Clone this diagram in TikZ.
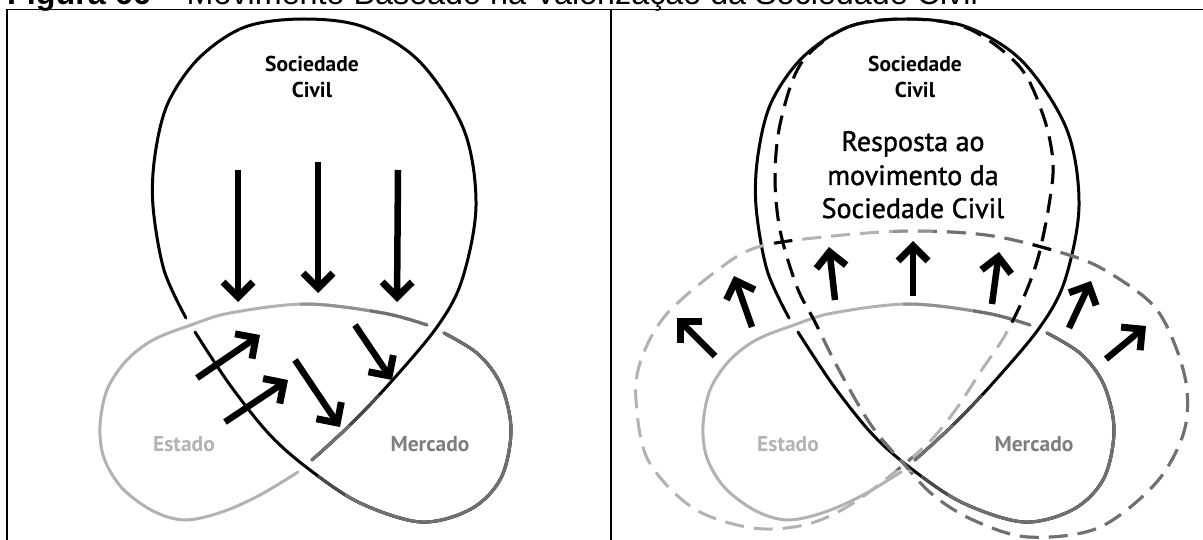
\documentclass[tikz,border=0pt]{standalone}
\usepackage{fontspec}
\setmainfont{PT Sans}
\newfontfamily\arialf{Liberation Sans}
\newfontfamily\bigf[FakeBold=1.4]{PT Sans}
\usetikzlibrary{arrows.meta}
\definecolor{estc}{HTML}{B2B2B2}
\definecolor{merc}{HTML}{707070}
\definecolor{midg}{HTML}{929292}
\definecolor{drk}{HTML}{4A4A4A}
\definecolor{estt}{HTML}{B4B4B4}
\definecolor{mert}{HTML}{7E7E7E}
\tikzset{
 knot/.style={line width=3pt, line cap=round},
 dknot/.style={line width=3pt, dash pattern=on 19pt off 10pt},
 bigarrow/.style={line width=6.5pt, -{Straight Barb[length=15pt,width=30pt,line width=7pt]}},
 frameline/.style={line width=1.4pt},
 lbl/.style={inner sep=0pt, anchor=base, font=\fontsize{21.5}{24}\selectfont\bfseries},
 big/.style={inner sep=0pt, anchor=base, font=\bigf\fontsize{28}{32}\selectfont},
}
\def\ArcA{plot[smooth,tension=0.55] coordinates {(312,460) (350,425) (390,383) (437,327) (462,280) (476,206) (464,130) (420,62) (364,27) (304,19) (245,27) (199,58) (168,103) (155,155) (153,206) (164,270) (186,318)}}
\def\ArcB{plot[smooth,tension=0.55] coordinates {(195,332) (230,385) (270,435) (310,470) (360,503) (421,522) (471,509) (501,478) (511,430) (501,385) (478,354) (444,333)}}
\def\ArcC{plot[smooth,tension=0.55] coordinates {(427,325) (383,313) (306,304) (230,313) (191,325) (153,340) (126,361) (107,390) (100,426) (104,458) (122,488) (153,511) (185,520) (222,512) (260,495) (298,472)}}
\def\DKnot{plot[smooth cycle,tension=0.55] coordinates {(304,19) (245,27) (199,62) (178,120) (172,175) (177,230) (194,287) (212,322) (236,370) (268,425) (300,463) (330,495) (370,520) (425,537) (495,528) (552,484) (580,435) (584,390) (572,345) (550,305) (505,272) (466,255) (390,236) (310,231) (230,236) (155,247) (112,272) (62,316) (38,360) (33,400) (45,460) (90,508) (150,528) (205,524) (255,500) (320,448) (351,412) (378,371) (401,337) (420,299) (435,258) (446,205) (450,162) (440,115) (416,66) (364,28)}}
\newcommand\SolidKnot{%
 \draw[knot,black] \ArcA;
 \begin{scope}\clip (250,395) rectangle (420,560); \draw[knot,color=drk] \ArcA; \end{scope}
 \begin{scope}\clip (250,425) rectangle (420,560); \draw[knot,color=merc] \ArcA; \end{scope}
 \draw[knot,black] \ArcB;
 \begin{scope}\clip (318,300) rectangle (560,560); \draw[knot,color=drk] \ArcB; \end{scope}
 \begin{scope}\clip (345,300) rectangle (560,560); \draw[knot,color=merc] \ArcB; \end{scope}
 \draw[knot,color=estc] \ArcC;
 \begin{scope}\clip (300,280) rectangle (560,345); \draw[knot,color=midg] \ArcC; \end{scope}
 \begin{scope}\clip (370,280) rectangle (560,345); \draw[knot,color=merc] \ArcC; \end{scope}
}
\begin{document}
\begin{tikzpicture}[x=1pt,y=-1pt]
\useasboundingbox (0,0) rectangle (1203,540);
\node[anchor=base west, inner sep=0pt, font=\arialf\fontsize{32.3}{36}\selectfont] (title) at (7,4.5) {\textbf{Figura 66} – Movimento Baseado na Valorização da Sociedade Civil};
% frame
\coordinate (ftl) at (7,9.5); \coordinate (ftr) at (1203,9.5);
\coordinate (fbl) at (7,540); \coordinate (ftm) at (611,9.5); \coordinate (fbm) at (611,540);
\draw[frameline] (ftl) -- (ftr);
\draw[frameline] (ftl) -- (fbl);
\draw[frameline] (ftm) -- (fbm);
% left panel
\SolidKnot
\node[lbl] (socA) at (312,72) {Sociedade};
\node[lbl] (civA) at (312,98) {Civil};
\node[lbl,text=estt] (estA) at (184,451) {Estado};
\node[lbl,text=mert] (merA) at (430,451) {Mercado};
\coordinate (d1s) at (238,170); \coordinate (d1e) at (238,302);
\coordinate (d2s) at (318,162); \coordinate (d2e) at (318,293);
\coordinate (d3s) at (398,170); \coordinate (d3e) at (397,302);
\coordinate (aAs) at (197,378); \coordinate (aAe) at (260,335);
\coordinate (aBs) at (225,422); \coordinate (aBe) at (288,380);
\coordinate (aCs) at (295,360); \coordinate (aCe) at (340,427);
\coordinate (aDs) at (355,325); \coordinate (aDe) at (392,380);
\foreach \a in {d1,d2,d3,aA,aB,aC,aD} \draw[bigarrow] (\a s) -- (\a e);
% right panel
\begin{scope}[xshift=603pt]
 \SolidKnot
 \draw[dknot,color=estc] \DKnot;
 \begin{scope}\clip (290,226) rectangle (330,290); \draw[dknot,color=midg] \DKnot; \end{scope}
 \begin{scope}
  \clip (330,226) -- (700,226) -- (700,600) -- (300,600) -- (300,472) -- (415,472) -- (415,330) -- (440,330) -- (440,280) -- (330,280) -- cycle
        (205,335) -- (232,335) -- (318,470) -- (293,470) -- cycle;
  \draw[dknot,color=merc] \DKnot;
 \end{scope}
 \begin{scope}
  \clip (140,0) rectangle (480,226)
        (165,226) -- (192,226) -- (232,335) -- (205,335) -- cycle
        (428,226) -- (458,226) -- (425,330) -- (398,330) -- cycle;
  \draw[dknot,color=black] \DKnot;
 \end{scope}
 \node[lbl] (socB) at (312,72) {Sociedade};
 \node[lbl] (civB) at (312,98) {Civil};
 \node[lbl,text=estt] (estB) at (185,451) {Estado};
 \node[lbl,text=mert] (merB) at (431,451) {Mercado};
 \node[big] (r1) at (310,151) {Resposta ao};
 \node[big] (r2) at (310,185) {movimento da};
 \node[big] (r3) at (310,218) {Sociedade Civil};
\end{scope}
\coordinate (u1s) at (715,356); \coordinate (u1e) at (677,318);
\coordinate (u2s) at (752,327); \coordinate (u2e) at (734,276);
\coordinate (u3s) at (835,300); \coordinate (u3e) at (829,247);
\coordinate (u4s) at (913,296); \coordinate (u4e) at (913,241);
\coordinate (u5s) at (992,304); \coordinate (u5e) at (999,252);
\coordinate (u6s) at (1069,328); \coordinate (u6e) at (1091,281);
\coordinate (u7s) at (1106,359); \coordinate (u7e) at (1146,326);
\foreach \a in {u1,u2,u3,u4,u5,u6,u7} \draw[bigarrow] (\a s) -- (\a e);
\end{tikzpicture}
\end{document}
